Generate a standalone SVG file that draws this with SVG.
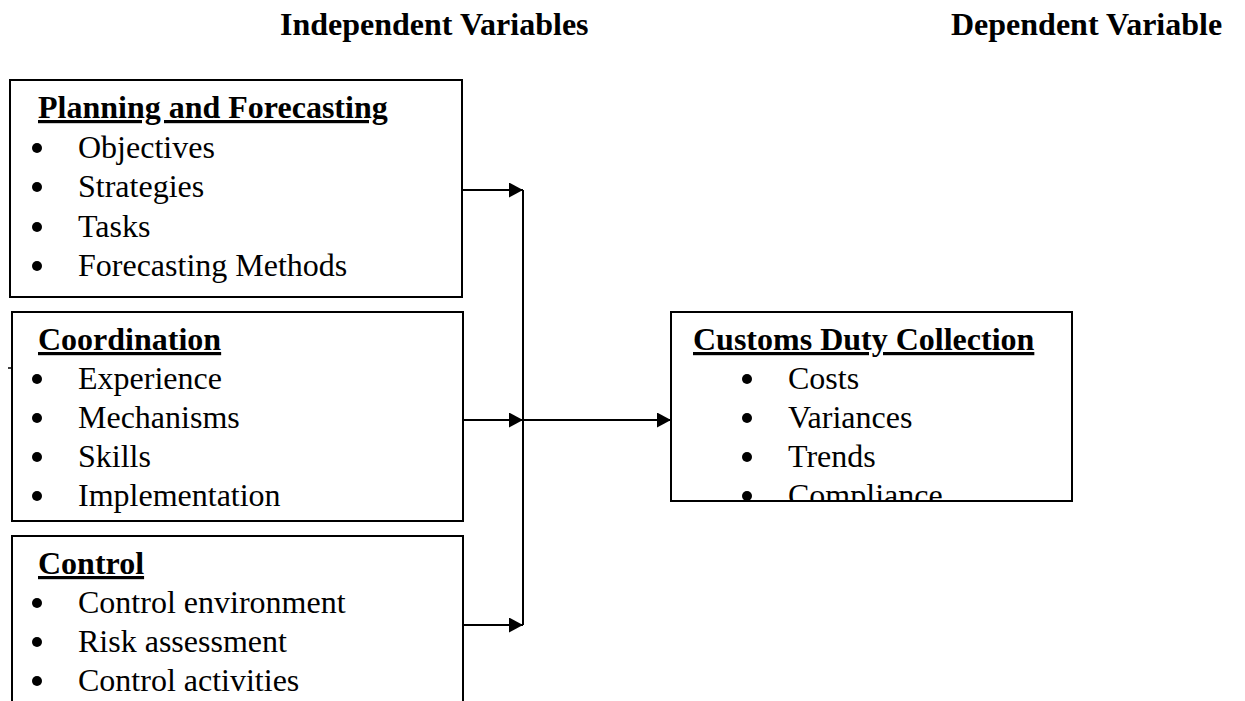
<svg xmlns="http://www.w3.org/2000/svg" width="1245" height="701" viewBox="0 0 1245 701">
<style>
text{font-family:"Liberation Serif","Times New Roman",serif;fill:#000}
.hdr{font-size:32px;font-weight:bold}
.ttl{font-size:32px;font-weight:bold;text-decoration:underline}
.itm{font-size:32px}
.box{fill:#fff;stroke:#000;stroke-width:2}
.conn{stroke:#000;stroke-width:2;fill:none}
.dot{fill:#000}
</style>
<defs>
<marker id="arr" viewBox="0 0 14 15" refX="14" refY="7.5" markerWidth="14" markerHeight="15" markerUnits="userSpaceOnUse" orient="auto">
<path d="M0,0 L14,7.5 L0,15 Z" fill="#000"/>
</marker>
<clipPath id="c2"><rect x="12" y="313" width="450" height="207"/></clipPath>
<clipPath id="c4"><rect x="672" y="313" width="399" height="187"/></clipPath>
</defs>
<rect width="1245" height="701" fill="#fff"/>
<g id="headers">
<text class="hdr" x="280" y="35">Independent Variables</text>
<text class="hdr" x="951" y="35">Dependent Variable</text>
</g>
<g id="planning">
<rect class="box" x="10" y="80" width="452" height="217"/>
<text class="ttl" x="38" y="118">Planning and Forecasting</text>
<circle class="dot" cx="37" cy="148" r="5"/><text class="itm" x="78" y="158">Objectives</text>
<circle class="dot" cx="37" cy="187" r="5"/><text class="itm" x="78" y="197">Strategies</text>
<circle class="dot" cx="37" cy="227" r="5"/><text class="itm" x="78" y="237">Tasks</text>
<circle class="dot" cx="37" cy="266" r="5"/><text class="itm" x="78" y="276">Forecasting Methods</text>
</g>
<g id="coordination">
<rect class="box" x="12" y="312" width="451" height="209"/>
<line x1="8" y1="368" x2="12" y2="368" stroke="#000" stroke-width="1.5"/>
<g clip-path="url(#c2)">
<text class="ttl" x="38" y="350">Coordination</text>
<circle class="dot" cx="37" cy="379" r="5"/><text class="itm" x="78" y="389">Experience</text>
<circle class="dot" cx="37" cy="418" r="5"/><text class="itm" x="78" y="428">Mechanisms</text>
<circle class="dot" cx="37" cy="457" r="5"/><text class="itm" x="78" y="467">Skills</text>
<circle class="dot" cx="37" cy="496" r="5"/><text class="itm" x="78" y="506">Implementation</text>
</g>
</g>
<g id="control">
<path class="conn" d="M12,702 V536 H463 V702"/>
<text class="ttl" x="38" y="574">Control</text>
<circle class="dot" cx="37" cy="603" r="5"/><text class="itm" x="78" y="613">Control environment</text>
<circle class="dot" cx="37" cy="642" r="5"/><text class="itm" x="78" y="652">Risk assessment</text>
<circle class="dot" cx="37" cy="681" r="5"/><text class="itm" x="78" y="691">Control activities</text>
</g>
<g id="customs">
<rect class="box" x="671" y="312" width="401" height="189"/>
<g clip-path="url(#c4)">
<text class="ttl" x="693" y="350">Customs Duty Collection</text>
<circle class="dot" cx="747" cy="379" r="5"/><text class="itm" x="788" y="389">Costs</text>
<circle class="dot" cx="747" cy="418" r="5"/><text class="itm" x="788" y="428">Variances</text>
<circle class="dot" cx="747" cy="457" r="5"/><text class="itm" x="788" y="467">Trends</text>
<circle class="dot" cx="747" cy="496" r="5"/><text class="itm" x="788" y="506">Compliance</text>
</g>
</g>
<g id="connectors">
<line class="conn" x1="523" y1="190" x2="523" y2="625"/>
<line class="conn" x1="462" y1="190" x2="523" y2="190" marker-end="url(#arr)"/>
<line class="conn" x1="463" y1="420" x2="523" y2="420" marker-end="url(#arr)"/>
<line class="conn" x1="463" y1="625" x2="523" y2="625" marker-end="url(#arr)"/>
<line class="conn" x1="523" y1="420" x2="671" y2="420" marker-end="url(#arr)"/>
</g>
</svg>
